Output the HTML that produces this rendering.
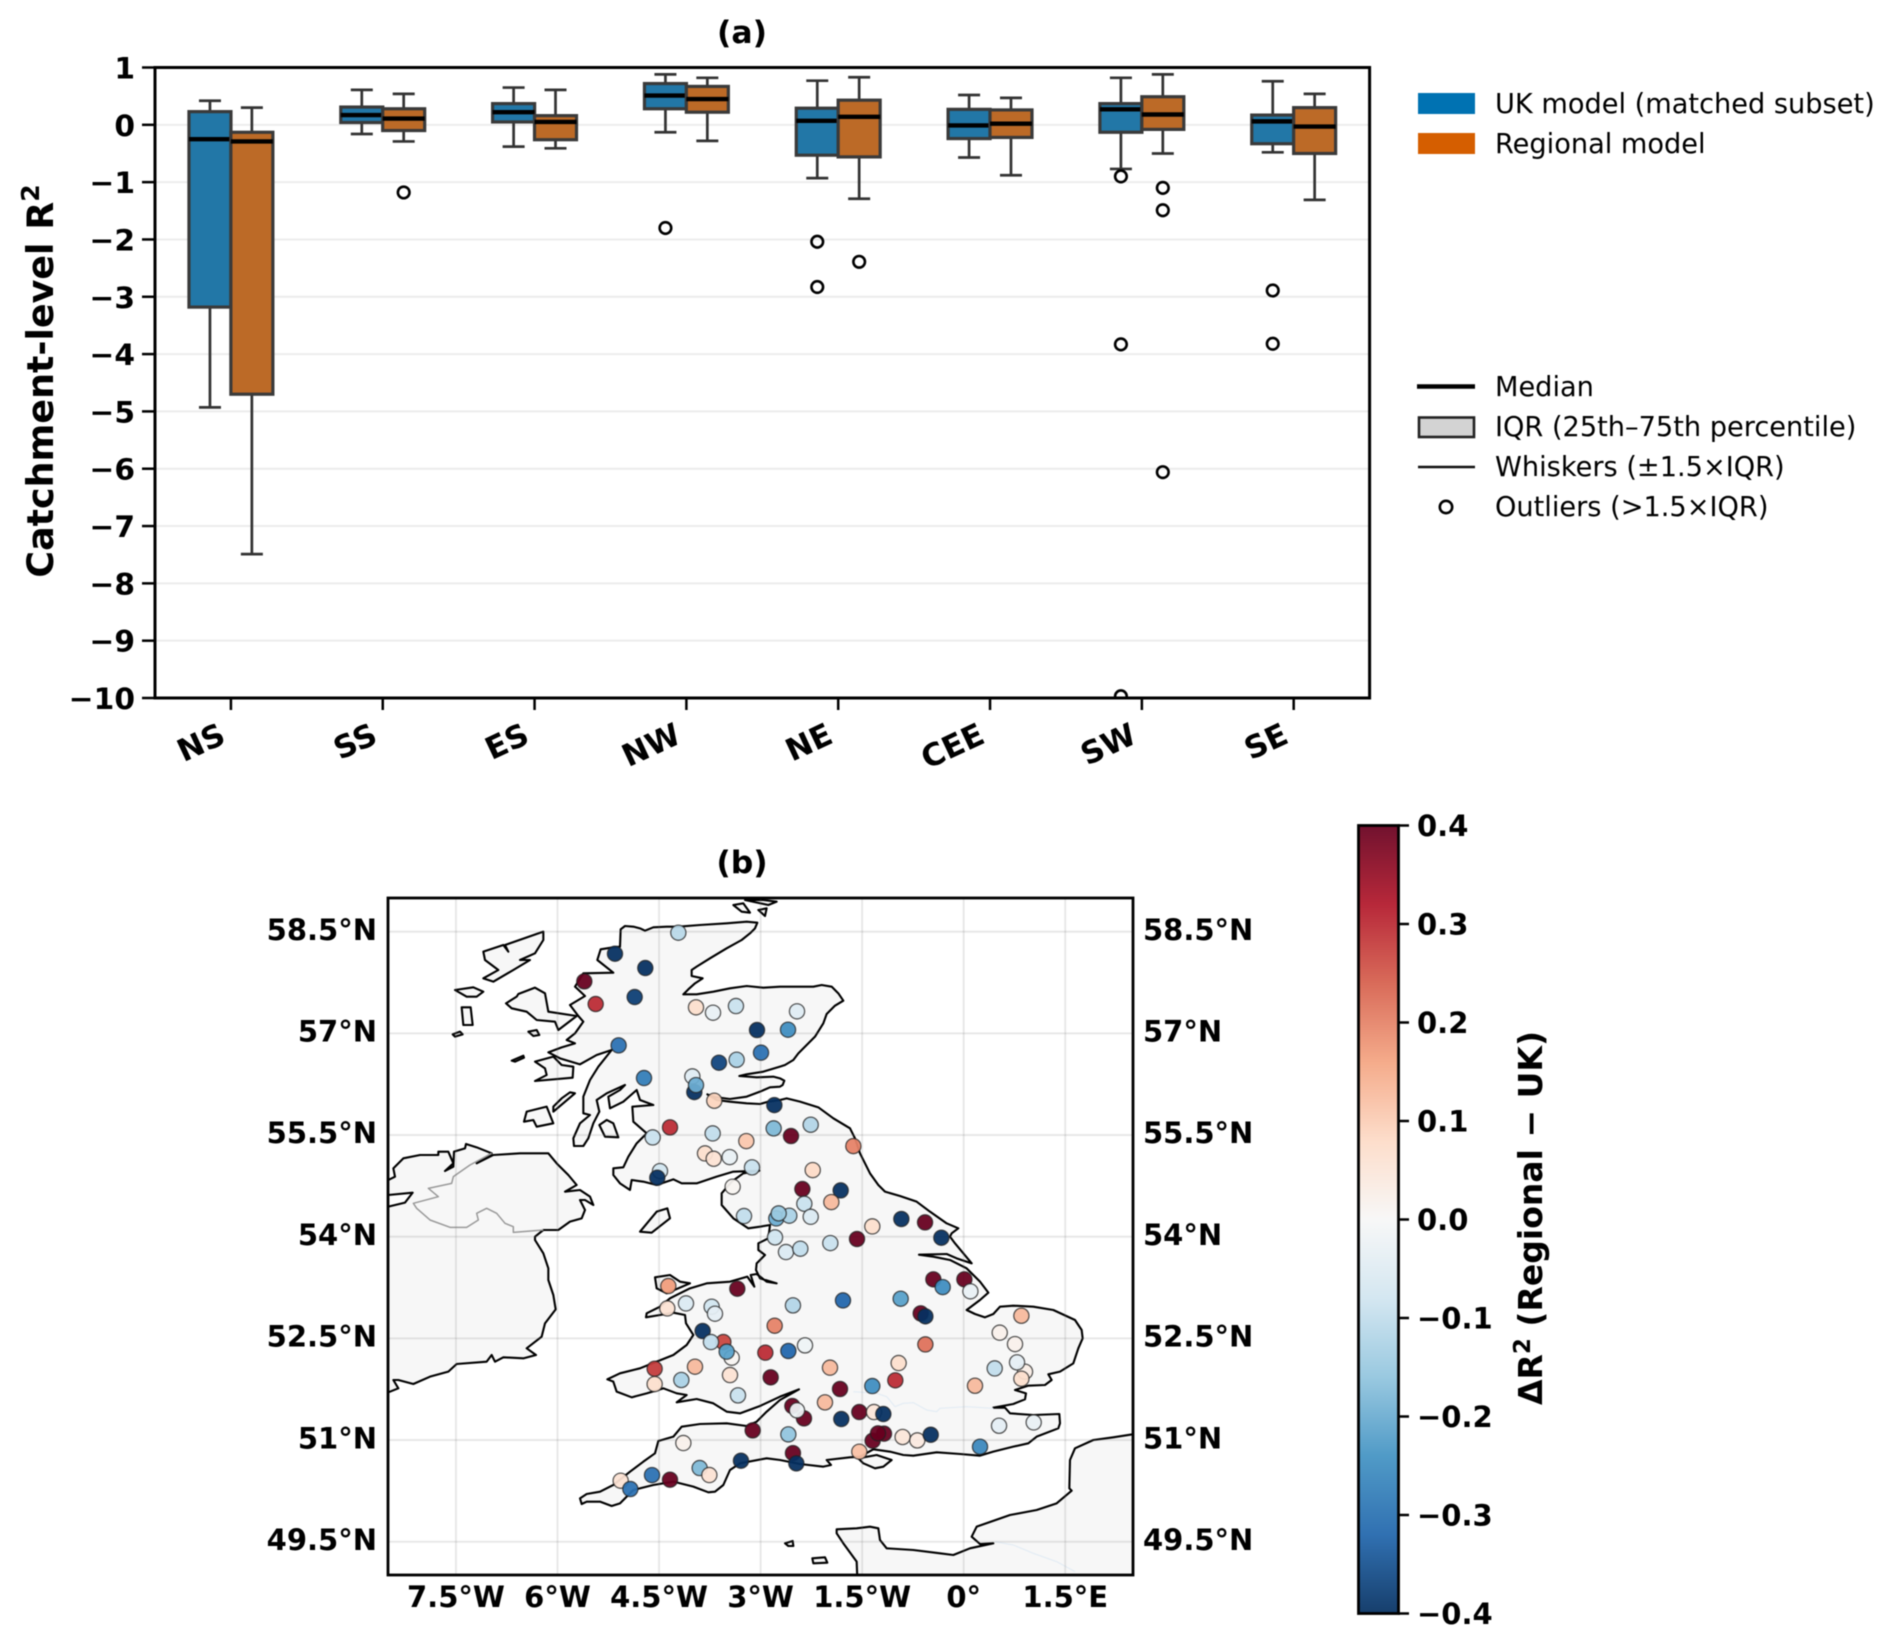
<!DOCTYPE html>
<html lang="en">
<head>
<meta charset="utf-8">
<title>Catchment-level R² comparison</title>
<style>
html,body{margin:0;padding:0;background:#fff;width:1892px;height:1644px;overflow:hidden}
svg{display:block;font-family:"DejaVu Sans",sans-serif;filter:blur(0.45px)}
.b{font-weight:700}
#coast path{vector-effect:non-scaling-stroke}
</style>
</head>
<body>
<svg id="fig" xmlns="http://www.w3.org/2000/svg" width="1892" height="1644" viewBox="0 0 1892 1644">
  <defs>
    <clipPath id="boxClip"><rect x="155" y="67.5" width="1214.6" height="630.5"/></clipPath>
    <clipPath id="mapClip"><rect x="388" y="898" width="745" height="677"/></clipPath>
    <linearGradient id="cbGrad" x1="0" y1="1" x2="0" y2="0"></linearGradient>
  </defs>

  <rect width="1892" height="1644" fill="#fff"/>

  <text class="b" x="742" y="43" font-size="31.5" text-anchor="middle">(a)</text>
  <text class="b" font-size="36.4" text-anchor="middle" transform="translate(53 381) rotate(-90)">Catchment-level R<tspan font-size="25" dy="-14">2</tspan></text>

  <g id="boxGrid"></g>
  <g id="boxMarks" clip-path="url(#boxClip)"></g>
  <g id="boxAxes"></g>
  <rect x="155" y="67.5" width="1214.6" height="630.5" fill="none" stroke="#000" stroke-width="3"/>

  <g font-size="27.2">
    <rect x="1418" y="93" width="57" height="21" fill="#0072B2"/>
    <text x="1495" y="113">UK model (matched subset)</text>
    <rect x="1418" y="133" width="57" height="21" fill="#D55E00"/>
    <text x="1495" y="153">Regional model</text>
  </g>
  <g font-size="27.2">
    <line x1="1417" x2="1475" y1="386.5" y2="386.5" stroke="#000" stroke-width="4.4"/>
    <text x="1495" y="396">Median</text>
    <rect x="1419" y="417.5" width="55" height="19.5" fill="#d3d3d3" stroke="#222" stroke-width="2.6"/>
    <text x="1495" y="436">IQR (25th–75th percentile)</text>
    <line x1="1418" x2="1475" y1="467" y2="467" stroke="#111" stroke-width="2.6"/>
    <text x="1495" y="476">Whiskers (±1.5×IQR)</text>
    <circle cx="1446" cy="507" r="6.2" fill="none" stroke="#000" stroke-width="2.6"/>
    <text x="1495" y="516">Outliers (&gt;1.5×IQR)</text>
  </g>

  <text class="b" x="742" y="873" font-size="31.5" text-anchor="middle">(b)</text>

  <g id="mapLayer" clip-path="url(#mapClip)">
    <rect x="388" y="898" width="745" height="677" fill="#fff"/>
    <g transform="translate(380 890) scale(0.33333)" fill="#f7f7f7" stroke="#000" stroke-width="2.1" stroke-linejoin="round">
      <g id="coast">
        <path d="M0 870L25 870 45 860 40 835 70 805 120 795 175 795 175 785 205 785 220 820 195 843 220 830 222 785 255 775 258 762 290 772 335 790 290 820 340 795 420 790 505 790 530 820 565 855 590 885 555 905 600 900 630 920 640 945 615 930 600 930 615 960 605 985 570 995 535 1020 490 1020 465 1040 465 1050 490 1090 505 1135 505 1170 520 1215 527 1258 495 1300 485 1340 440 1375 468 1395 430 1405 370 1402 345 1415 335 1395 320 1415 230 1422 205 1445 150 1460 100 1482 55 1470 40 1470 55 1495 25 1507 0 1507 0 950 25 950 75 938 98 908 25 915 0 915Z"/>
        <path stroke-width="1.5" fill="none" stroke="#9a9a9a" d="M335 790L270 825 220 860 215 880 145 895 175 920 100 940 110 955 150 990 210 1012 260 1012 295 990 290 970 320 955 350 970 375 1000 400 1010 400 1027 490 1020"/>
        <path d="M1370 1918L1430 1915 1470 1910 1495 1915 1500 1950 1520 1975 1600 1980 1680 1990 1720 1995 1770 1975 1840 1960 1800 1962 1775 1940 1790 1910 1890 1875 1970 1860 2030 1840 2075 1802 2068 1795 2070 1710 2085 1675 2140 1650 2200 1642 2258 1633 2270 1633 2270 2065 1432 2065 1430 2015 1390 1960 1370 1930Z"/>
        <path d="M722 118L735 108 760 110 780 115 795 122 820 112 860 110 895 110 960 105 1040 100 1100 95 1132 98 1125 115 1110 130 1085 150 1040 175 990 205 950 230 935 240 935 258 968 265 945 280 925 298 910 313 950 313 1000 305 1050 295 1100 288 1150 293 1200 290 1300 290 1325 285 1355 290 1375 310 1390 332 1365 347 1340 372 1330 400 1305 440 1280 465 1255 490 1240 510 1215 525 1200 530 1150 545 1100 553 1078 558 1130 562 1180 560 1200 565 1213 572 1208 585 1200 590 1170 592 1140 605 1100 620 1050 627 1010 622 982 613 1010 630 1050 635 1100 640 1140 642 1165 635 1200 630 1220 625 1260 635 1315 652 1360 685 1410 715 1425 745 1440 790 1470 850 1495 885 1515 905 1560 918 1610 935 1650 965 1700 1000 1735 1015 1715 1030 1710 1040 1725 1060 1775 1120 1730 1105 1700 1092 1617 1094 1660 1100 1710 1110 1760 1135 1800 1175 1825 1208 1800 1230 1760 1260 1785 1272 1815 1282 1840 1272 1860 1250 1900 1247 1960 1250 2020 1260 2085 1290 2105 1320 2108 1345 2095 1375 2080 1420 2040 1445 2005 1453 2015 1470 1995 1485 1945 1487 1905 1500 1938 1510 1935 1528 1900 1542 1840 1553 1875 1553 1890 1570 1960 1575 2038 1572 2040 1600 2035 1615 1970 1640 1945 1660 1900 1670 1840 1685 1800 1697 1740 1692 1670 1687 1600 1697 1570 1695 1530 1685 1480 1678 1440 1700 1410 1702 1340 1710 1353 1725 1330 1730 1260 1722 1200 1710 1160 1705 1080 1720 1050 1740 1030 1785 1005 1805 985 1807 940 1790 880 1775 820 1785 760 1800 720 1840 695 1848 660 1835 620 1835 605 1842 600 1825 620 1812 660 1805 700 1785 750 1745 790 1715 825 1690 835 1653 880 1640 905 1610 960 1602 1040 1600 1100 1608 1130 1595 1160 1565 1200 1530 1257 1498 1200 1520 1140 1548 1080 1570 1040 1565 1000 1540 950 1527 890 1537 920 1515 890 1510 850 1495 800 1510 755 1522 710 1505 700 1475 682 1468 720 1450 780 1435 830 1415 880 1395 920 1365 940 1335 918 1300 915 1275 880 1268 840 1275 798 1282 800 1270 840 1250 870 1225 890 1215 930 1195 980 1180 1050 1175 1102 1160 1123 1190 1112 1155 1130 1152 1160 1175 1190 1180 1140 1165 1128 1140 1130 1120 1155 1095 1135 1080 1135 1060 1165 1045 1170 1005 1140 1010 1105 1015 1060 985 1025 945 1025 910 1055 875 1090 850 1138 842 1060 845 1010 860 950 880 905 880 880 868 830 885 790 875 755 870 750 900 720 880 700 855 700 835 730 832 745 800 770 760 800 730 760 695 757 650 820 645 780 630 770 600 730 635 690 655 685 620 720 600 735 585 680 610 650 630 658 665 640 700 625 745 610 768 582 768 580 745 600 700 630 675 610 670 610 620 630 570 655 530 695 480 650 495 600 523 540 505 505 487 545 472 585 460 560 450 585 430 610 395 595 378 570 345 615 318 585 290 610 250 700 248 652 210 662 178 700 172 720 170Z"/>
        <path d="M378 340L410 320 415 312 465 293 495 310 505 365 590 378 535 420 525 395 470 390 440 365 395 355Z"/>
        <path d="M310 185L370 165 385 185 375 165 490 125 490 150 465 190 420 210 450 210 400 240 340 275 310 265 355 240 315 210Z"/>
        <path d="M225 300L280 292 310 305 290 320 260 320Z"/>
        <path d="M245 352L272 352 278 405 250 405Z"/>
        <path d="M218 433L240 425 248 433 225 440Z"/>
        <path d="M445 425L470 420 478 435 460 438Z"/>
        <path d="M395 512L430 497 432 503 405 515Z"/>
        <path d="M465 515L520 500 545 525 580 530 578 563 465 573 500 555 495 535Z"/>
        <path d="M520 665L585 610 570 607 545 625 520 650Z"/>
        <path d="M432 695L440 665 500 650 520 700 470 710 460 690Z"/>
        <path d="M658 705L680 690 700 700 715 742 675 740Z"/>
        <path d="M1060 45L1090 40 1110 68 1085 65Z"/>
        <path d="M1095 30L1165 45 1190 35 1150 30Z"/>
        <path d="M1135 60L1160 55 1155 78Z"/>
        <path d="M780 1025L830 965 862 955 870 985 815 1028Z"/>
        <path d="M825 1162L870 1155 900 1175 930 1180 895 1195 860 1210 830 1195Z"/>
        <path d="M1435 1705L1490 1695 1535 1710 1510 1730 1485 1735 1450 1720Z"/>
        <path d="M1215 1960L1238 1953 1240 1968 1225 1968Z"/>
        <path d="M1297 2005L1335 2002 1342 2018 1300 2020Z"/>
        <path stroke-width="1.2" fill="none" stroke="#e3ecf4" d="M1840 1555L1760 1550 1680 1555 1670 1565 1640 1560 1600 1538 1570 1540 1545 1550 1520 1520 1490 1510 1420 1505"/>
        <path stroke-width="1.2" fill="none" stroke="#e3ecf4" d="M1845 1955L1900 1965 1960 1990 2030 2015 2085 2045"/>
      </g>
    </g>
    <g id="mapGrid"></g>
    <g id="mapPoints"></g>
  </g>
  <rect x="388" y="898" width="745" height="677" fill="none" stroke="#000" stroke-width="2.8"/>
  <g id="mapLabels"></g>

  <g id="colorbar">
    <rect x="1358.5" y="825.5" width="40" height="788" fill="url(#cbGrad)" stroke="#000" stroke-width="2.8"/>
  </g>
  <text class="b" font-size="33" text-anchor="middle" transform="translate(1542 1218) rotate(-90)">ΔR<tspan font-size="23" dy="-12">2</tspan><tspan dy="12"> (Regional − UK)</tspan></text>
</svg>

<script>
// ---- Panel (a) data ----
const categories = ['NS','SS','ES','NW','NE','CEE','SW','SE'];
const yTickValues = [1,0,-1,-2,-3,-4,-5,-6,-7,-8,-9,-10];
const ukWhiskerHigh = [0.42,0.61,0.65,0.88,0.77,0.52,0.82,0.76];
const ukQ3 = [0.23,0.31,0.37,0.72,0.29,0.27,0.37,0.17];
const ukMedian = [-0.25,0.17,0.22,0.51,0.07,-0.01,0.27,0.06];
const ukQ1 = [-3.18,0.04,0.05,0.28,-0.53,-0.24,-0.13,-0.33];
const ukWhiskerLow = [-4.93,-0.16,-0.38,-0.13,-0.93,-0.57,-0.77,-0.48];
const ukOutliers = [[],[],[],[-1.80],[-2.04,-2.83],[],[-0.90,-3.83,-9.97],[-2.89,-3.82]];
const regWhiskerHigh = [0.30,0.54,0.61,0.82,0.83,0.47,0.88,0.54];
const regQ3 = [-0.13,0.28,0.16,0.67,0.43,0.26,0.49,0.30];
const regMedian = [-0.29,0.11,0.05,0.45,0.14,0.02,0.18,-0.03];
const regQ1 = [-4.70,-0.10,-0.26,0.22,-0.56,-0.22,-0.08,-0.50];
const regWhiskerLow = [-7.49,-0.29,-0.41,-0.28,-1.29,-0.88,-0.50,-1.31];
const regOutliers = [[],[-1.18],[],[],[-2.39],[],[-1.10,-1.49,-6.06],[]];

// ---- Panel (b) data ----
const lonTickValues = [-7.5,-6,-4.5,-3,-1.5,0,1.5];
const lonTickLabels = ['7.5°W','6°W','4.5°W','3°W','1.5°W','0°','1.5°E'];
const latTickValues = [58.5,57,55.5,54,52.5,51,49.5];
const latTickLabels = ['58.5°N','57°N','55.5°N','54°N','52.5°N','51°N','49.5°N'];
const colorbarTicks = [0.4,0.3,0.2,0.1,0,-0.1,-0.2,-0.3,-0.4];
const colorbarLabels = ['0.4','0.3','0.2','0.1','0.0','−0.1','−0.2','−0.3','−0.4'];
const rdbuColors = ['#053061','#2166ac','#4393c3','#92c5de','#d1e5f0','#f7f7f7','#fddbc7','#f4a582','#d6604d','#b2182b','#67001f'];
const stationLons = [-4.215,-5.151,-4.703,-5.604,-5.436,-4.860,-3.954,-3.703,-3.364,-3.053,-2.994,-3.615,-3.354,-5.097,-4.722,-4.008,-3.979,-3.954,-3.684,-2.797,-2.807,-4.338,-4.594,-3.708,-3.211,-3.821,-3.693,-3.457,-3.127,-4.486,-4.526,-2.462,-2.595,-2.260,-2.551,-1.630,-2.230,-2.383,-1.817,-1.955,-2.354,-2.260,-3.413,-3.245,-2.768,-2.576,-2.733,-2.787,-2.625,-2.413,-1.970,-1.576,-1.350,-0.921,-3.344,-4.363,-4.378,-4.102,-3.723,-3.674,-2.522,-1.783,-0.931,-2.792,-3.550,-3.427,-3.856,-3.733,-3.501,-2.930,-2.590,-2.344,-1.975,-2.851,-3.969,-4.171,-3.452,-3.334,-4.565,-4.565,-1.827,-2.049,-2.531,-2.359,-2.462,-1.808,-1.542,-1.325,-1.187,-1.350,-1.010,-0.961,-3.117,-2.590,-4.141,-3.900,-3.757,-4.338,-3.290,-2.522,-2.472,-1.542,-1.345,-1.177,-1.266,-0.902,-0.685,-0.487,0.241,0.522,1.034,0.167,0.458,0.906,0.852,0.788,0.758,0.532,0.852,-0.566,-0.635,-0.566,-0.448,-0.310,0.010,0.099,-0.571,-0.330,-5.067,-4.924,-4.604];
const stationLats = [58.485,58.175,57.964,57.767,57.433,57.536,57.384,57.305,57.403,57.049,56.715,56.567,56.611,56.823,56.341,56.365,56.134,56.237,56.006,55.942,55.598,55.613,55.465,55.524,55.411,55.229,55.150,55.175,55.023,54.968,54.870,57.325,57.054,55.652,55.485,55.337,54.983,54.703,54.683,54.511,54.486,54.294,54.738,54.305,54.270,54.310,54.344,53.990,53.774,53.823,53.906,53.966,54.152,54.261,53.233,53.272,52.942,53.016,52.967,52.864,52.987,53.060,53.085,52.687,52.446,52.215,52.609,52.446,52.304,52.289,52.314,52.397,52.068,51.925,52.082,51.886,51.959,51.659,52.052,51.826,51.753,51.556,51.502,51.320,51.438,51.310,51.413,51.413,51.384,51.797,51.881,52.136,51.143,51.084,50.956,50.587,50.484,50.415,50.695,50.808,50.656,50.828,50.990,51.094,51.099,51.045,50.995,51.078,50.901,51.211,51.260,51.801,52.057,52.008,51.905,52.146,52.416,52.584,52.834,52.411,52.869,52.825,53.371,53.257,53.371,53.194,54.211,53.985,50.400,50.277,50.483];
const stationDeltas = [-0.11,-0.4,-0.4,0.4,0.3,-0.38,0.07,-0.03,-0.09,-0.4,-0.3,-0.37,-0.13,-0.3,-0.28,-0.05,-0.4,-0.2,0.09,-0.4,-0.18,0.3,-0.09,-0.1,0.11,0.07,0.06,-0.03,-0.09,-0.08,-0.4,-0.05,-0.25,-0.12,0.4,0.2,0.08,0.4,-0.4,0.13,-0.09,-0.06,0.01,-0.1,-0.2,-0.13,-0.15,-0.08,-0.06,-0.1,-0.09,0.4,0.07,-0.4,0.4,0.17,0.06,-0.06,-0.08,-0.04,-0.12,-0.32,-0.22,0.2,0.27,0.01,-0.4,-0.1,-0.22,0.3,-0.32,-0.02,0.13,0.4,0.13,-0.13,0.06,-0.09,0.28,0.07,0.4,0.13,0.4,0.4,-0.02,-0.4,0.4,0.05,-0.4,-0.25,0.3,0.07,0.4,-0.16,0.02,-0.18,0.06,0.4,-0.4,0.4,-0.4,0.12,0.4,0.4,0.4,0.05,0.04,-0.4,-0.26,-0.04,-0.03,0.13,-0.1,0.03,0.07,-0.04,0.02,0.02,0.13,0.22,0.4,-0.4,0.4,-0.25,0.4,-0.03,0.4,-0.4,0.06,-0.3,-0.3];

const NS = 'http://www.w3.org/2000/svg';
function make(tag, attrs, parent) {
  const el = document.createElementNS(NS, tag);
  for (const k in attrs) el.setAttribute(k, attrs[k]);
  parent.appendChild(el);
  return el;
}

// ---- Axis functions ----
function xScale(i) { return 155 + (i + 0.5) / 8 * 1214.6; }
function yScale(v) { return 67.5 + (1 - v) / 11 * 630.5; }
function lonScale(lon) { return 963.7 + lon * 67.7; }
function latScale(lat) { return 931.7 + (58.5 - lat) * 67.78; }
function cbScale(v) { return 1219.5 - v * 985; }
function hexToRgb(h) { return [1,3,5].map(i => parseInt(h.substr(i,2),16)); }
function rdbu(v) {
  const t = Math.max(0, Math.min(1, (v + 0.4) / 0.8)) * (rdbuColors.length - 1);
  const i = Math.min(Math.floor(t), rdbuColors.length - 2);
  const a = hexToRgb(rdbuColors[i]);
  const b = hexToRgb(rdbuColors[i + 1]);
  const f = t - i;
  return 'rgb(' + a.map((c, k) => Math.round(c + (b[k] - c) * f)).join(',') + ')';
}

// ---- Panel (a) ----
const boxGrid = document.getElementById('boxGrid');
const boxAxes = document.getElementById('boxAxes');
const boxMarks = document.getElementById('boxMarks');
yTickValues.forEach(v => {
  const y = yScale(v);
  const g = make('line', {x1:155, x2:1369.6, y1:y, y2:y, stroke:'#ececec', 'stroke-width':2}, boxGrid);
  
  
  const t = make('line', {x1:142, x2:155, y1:y, y2:y, stroke:'#000', 'stroke-width':2.5}, boxAxes);
  
  
  const l = make('text', {x:135, y:y + 11, 'font-size':29.7, 'font-weight':700, 'text-anchor':'end'}, boxAxes);
  
  
  l.textContent = String(v).replace('-', '−');
});
categories.forEach((c, i) => {
  const x = xScale(i);
  const t = make('line', {x1:x, x2:x, y1:698, y2:710, stroke:'#000', 'stroke-width':2.5}, boxAxes);
  
  
  const l = make('text', {'font-size':31, 'font-weight':700, 'text-anchor':'end', transform:'translate(' + (x - 3.5) + ' 742) rotate(-25)'}, boxAxes);
  
  
  l.textContent = c;
});
function drawBox(i, offset, fill, hi, q3, med, q1, lo, outliers, series) {
  const cx = xScale(i) + offset * 151.8;
  const hw = 21;
  const g = make('g', {}, boxMarks);
  
  
  const wStyle = {stroke:'#333', 'stroke-width':2.7};
  make('line', Object.assign({x1:cx, x2:cx, y1:yScale(hi), y2:yScale(q3)}, wStyle), g);
  make('line', Object.assign({x1:cx, x2:cx, y1:yScale(q1), y2:yScale(lo)}, wStyle), g);
  make('line', Object.assign({x1:cx - 11, x2:cx + 11, y1:yScale(hi), y2:yScale(hi)}, wStyle), g);
  make('line', Object.assign({x1:cx - 11, x2:cx + 11, y1:yScale(lo), y2:yScale(lo)}, wStyle), g);
  make('rect', {x:cx - hw, y:yScale(q3), width:2 * hw, height:yScale(q1) - yScale(q3), fill:fill, stroke:'#3a3a3a', 'stroke-width':3.2}, g);
  make('line', {x1:cx - hw, x2:cx + hw, y1:yScale(med), y2:yScale(med), stroke:'#000', 'stroke-width':4.4}, g);
  outliers.forEach(v => {
    make('circle', {cx:cx, cy:yScale(v), r:5.8, fill:'none', stroke:'#000', 'stroke-width':2.6}, g);
  });
}
categories.forEach((c, i) => {
  drawBox(i, -0.138, '#2277a7', ukWhiskerHigh[i], ukQ3[i], ukMedian[i], ukQ1[i], ukWhiskerLow[i], ukOutliers[i], 'uk');
  drawBox(i, 0.138, '#bc6a27', regWhiskerHigh[i], regQ3[i], regMedian[i], regQ1[i], regWhiskerLow[i], regOutliers[i], 'regional');
});

// ---- Panel (b) ----
const mapGrid = document.getElementById('mapGrid');
const mapLabels = document.getElementById('mapLabels');
const mapPoints = document.getElementById('mapPoints');
lonTickValues.forEach((v, i) => {
  const x = lonScale(v);
  const g = make('line', {x1:x, x2:x, y1:898, y2:1575, stroke:'#777', 'stroke-opacity':0.18, 'stroke-width':1.8}, mapGrid);
  
  
  const l = make('text', {x:x, y:1607, 'font-size':29, 'font-weight':700, 'text-anchor':'middle'}, mapLabels);
  
  
  l.textContent = lonTickLabels[i];
});
latTickValues.forEach((v, i) => {
  const y = latScale(v);
  const g = make('line', {x1:388, x2:1133, y1:y, y2:y, stroke:'#777', 'stroke-opacity':0.18, 'stroke-width':1.8}, mapGrid);
  
  
  const a = make('text', {x:377, y:y + 8.2, 'font-size':29, 'font-weight':700, 'text-anchor':'end'}, mapLabels);
  
  
  a.textContent = latTickLabels[i];
  const b = make('text', {x:1143, y:y + 8.2, 'font-size':29, 'font-weight':700}, mapLabels);
  
  
  b.textContent = latTickLabels[i];
});
stationDeltas.forEach((d, i) => {
  const c = make('circle', {cx:lonScale(stationLons[i]), cy:latScale(stationLats[i]), r:7.6, fill:rdbu(d), 'fill-opacity':0.94, stroke:'#222', 'stroke-opacity':0.75, 'stroke-width':1.3}, mapPoints);
  
  
});

// ---- Colorbar ----
const grad = document.getElementById('cbGrad');
rdbuColors.forEach((col, i) => {
  make('stop', {offset:(i / (rdbuColors.length - 1) * 100) + '%', 'stop-color':col, 'stop-opacity':0.93}, grad);
});
const cb = document.getElementById('colorbar');
colorbarTicks.forEach((v, i) => {
  const y = cbScale(v);
  const t = make('line', {x1:1398, x2:1409, y1:y, y2:y, stroke:'#000', 'stroke-width':2.5}, cb);
  
  
  const l = make('text', {x:1417, y:y + 10.5, 'font-size':29, 'font-weight':700}, cb);
  
  
  l.textContent = colorbarLabels[i];
});
</script>
</body>
</html>
